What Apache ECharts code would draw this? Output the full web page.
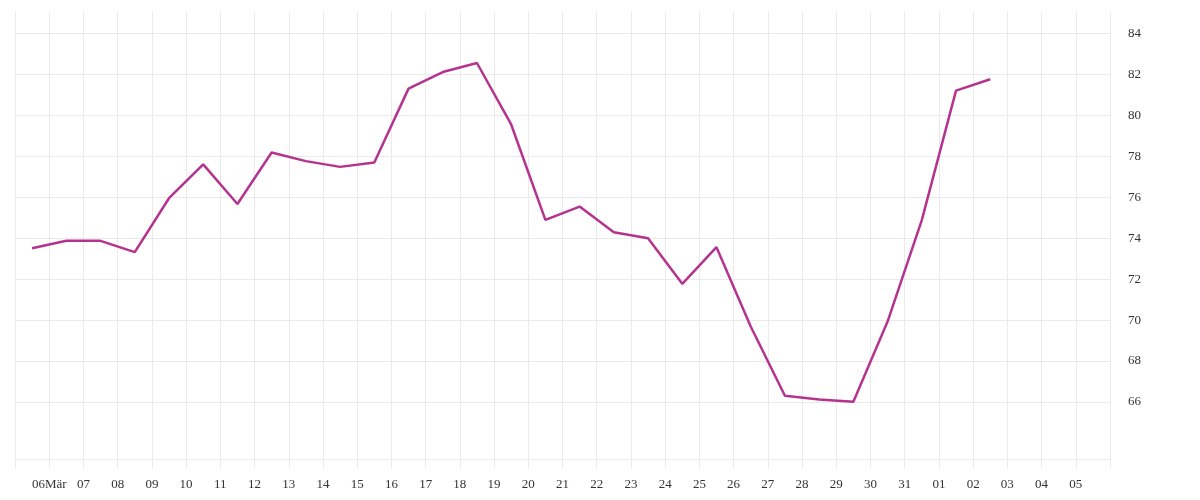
<!DOCTYPE html>
<html>
<head>
<meta charset="utf-8">
<script src="https://cdn.jsdelivr.net/npm/echarts@6/dist/echarts.min.js"></script>
<style>
html,body{margin:0;padding:0;background:#fff;}
#chart{width:1200px;height:500px;}
</style>
</head>
<body>
<div id="chart"></div>
<script>
// Day labels placed at day boundaries (slot index 1..31)
const dayLabels = ['06Mär','07','08','09','10','11','12','13','14','15','16','17','18','19','20','21','22','23','24','25','26','27','28','29','30','31','01','02','03','04','05'];
// Daily values, one per day slot starting at the first slot
const values = [73.51, 73.87, 73.87, 73.32, 75.95, 77.6, 75.67, 78.18, 77.76, 77.48, 77.69, 81.30, 82.11, 82.55, 79.55, 74.89, 75.54, 74.29, 74.0, 71.77, 73.56, 69.69, 66.31, 66.12, 66.02, 69.93, 74.88, 81.2, 81.76];
const yTicks = [66, 68, 70, 72, 74, 76, 78, 80, 82, 84];
const slotCount = 32;
const yMin = 63.22, yMax = 85.04;

const seriesData = values.map((v, i) => [i + 0.5, v]);
const gridColor = '#eaeaea';
const textStyle = { color: '#333', fontFamily: 'Liberation Serif, DejaVu Serif, serif', fontSize: 13 };

const chart = echarts.init(document.getElementById('chart'));
chart.setOption({
  animation: false,
  grid: { left: 15, right: 90, top: 12, bottom: 41, containLabel: false },
  xAxis: {
    type: 'value',
    min: 0,
    max: slotCount,
    interval: 1,
    axisLine: { show: true, lineStyle: { color: gridColor, width: 1 } },
    axisTick: { show: true, length: 9, lineStyle: { color: gridColor, width: 1 } },
    splitLine: { show: true, lineStyle: { color: gridColor, width: 1 } },
    axisLabel: Object.assign({
      margin: 19,
      showMinLabel: true,
      showMaxLabel: true,
      formatter: function (v) {
        const idx = Math.round(v) - 1;
        return (idx >= 0 && idx < dayLabels.length) ? dayLabels[idx] : '';
      }
    }, textStyle)
  },
  yAxis: {
    type: 'value',
    position: 'right',
    min: yMin,
    max: yMax,
    axisLine: { show: false },
    axisTick: { show: false, customValues: yTicks },
    splitLine: { show: true, lineStyle: { color: gridColor, width: 1 } },
    axisLabel: Object.assign({
      margin: 18,
      padding: [3, 0, 0, 0],
      customValues: yTicks,
      formatter: function (v) { return String(Math.round(v)); }
    }, textStyle)
  },
  series: [{
    type: 'line',
    data: seriesData,
    showSymbol: false,
    symbol: 'none',
    lineStyle: { color: '#b5338f', width: 2.5 },
    itemStyle: { color: '#b5338f' }
  }]
});
</script>
</body>
</html>
